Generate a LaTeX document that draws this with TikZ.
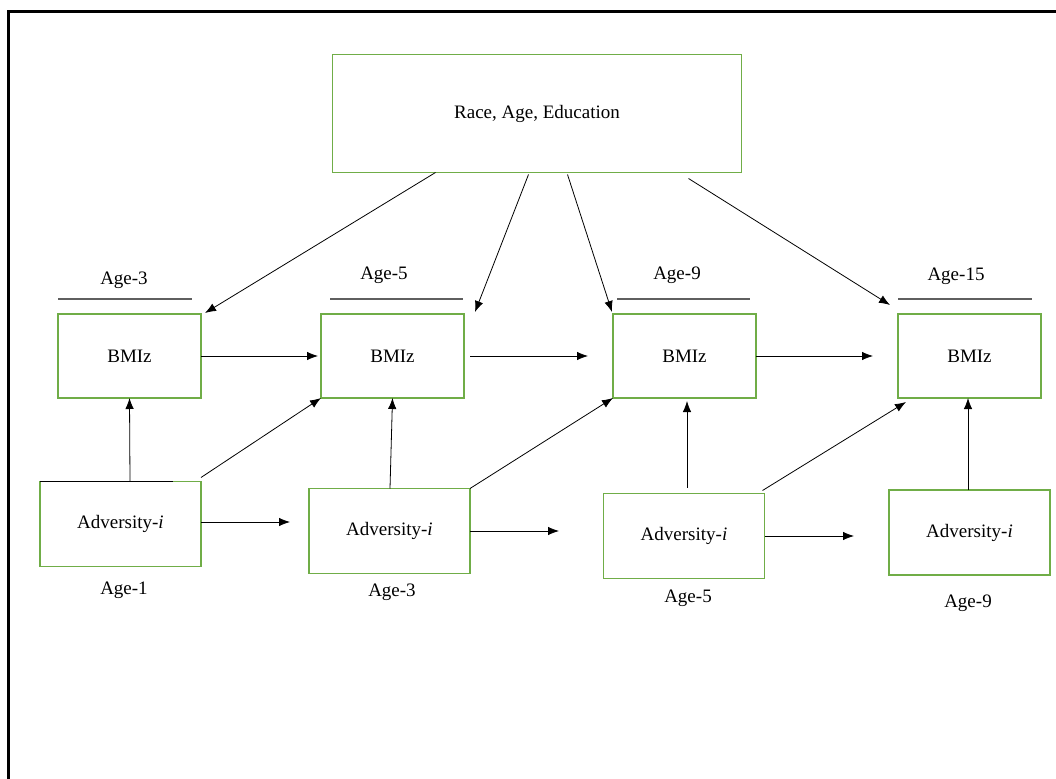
\documentclass[tikz,border=0pt]{standalone}
\usepackage{fontspec}
\setmainfont{Liberation Serif}
\usetikzlibrary{arrows.meta}
\definecolor{boxgreen}{RGB}{112,173,71}
\definecolor{bargray}{RGB}{95,95,95}
\tikzset{
  box/.style={draw=boxgreen, line width=1.6pt, minimum width=143pt, minimum height=84pt, inner sep=0pt, outer sep=0pt, font=\fontsize{19}{23}\selectfont},
  advbox/.style={box, minimum width=161pt, minimum height=85pt},
  agelabel/.style={inner sep=0pt, font=\fontsize{19}{23}\selectfont},
  arr/.style={draw=black, line width=0.8pt, -{Latex[length=11pt,width=8.5pt]}},
  plainline/.style={draw=black, line width=0.8pt},
  bar/.style={draw=bargray, line width=1.3pt}
}
\begin{document}
\begin{tikzpicture}[x=1pt,y=-1pt]
\useasboundingbox (0,0) rectangle (1056,778);
% outer frame
\draw[line width=2.4pt] (8.5,790) -- (8.5,11.5) -- (1070,11.5);

% top box
\node[box, minimum width=409pt, minimum height=118pt] (T) at (537,113.5) {Race, Age, Education};

% BMIz boxes
\node[box] (b1) at (129.5,356) {BMIz};
\node[box] (b2) at (392.5,356) {BMIz};
\node[box] (b3) at (684.5,356) {BMIz};
\node[box] (b4) at (969.5,356) {BMIz};

% adversity boxes
\node[advbox] (a1) at (120.5,524) {Adversity-\textit{i}};
\node[advbox] (a2) at (389.5,531) {Adversity-\textit{i}};
\node[advbox] (a3) at (684,536) {Adversity-\textit{i}};
\node[advbox] (a4) at (969.5,532.5) {Adversity-\textit{i}};
\draw[line width=1.2pt] (a1.north west) -- ++(133,0);

% age labels above
\node[agelabel] (l1) at (124,280) {Age-3};
\node[agelabel] (l2) at (384,275) {Age-5};
\node[agelabel] (l3) at (677,275) {Age-9};
\node[agelabel] (l4) at (956,276) {Age-15};
% bars
\draw[bar] (58,299) -- (192,299);
\draw[bar] (330,299) -- (463,299);
\draw[bar] (617,299) -- (750,299);
\draw[bar] (898,299) -- (1032,299);

% age labels below
\node[agelabel] (m1) at (124,590) {Age-1};
\node[agelabel] (m2) at (392,592) {Age-3};
\node[agelabel] (m3) at (688,598) {Age-5};
\node[agelabel] (m4) at (968,603) {Age-9};

% top arrows
\draw[arr] ([xshift=-101.5pt]T.south) -- ([xshift=4pt,yshift=1pt]b1.north east);
\draw[arr] ([xshift=-8.5pt,yshift=-2pt]T.south) -- ([xshift=11pt,yshift=2pt]b2.north east);
\draw[arr] ([xshift=30.5pt,yshift=-2pt]T.south) -- ([xshift=-1pt,yshift=2pt]b3.north west);
\draw[arr] ([xshift=151.5pt,yshift=-6pt]T.south) -- ([xshift=-8pt,yshift=9pt]b4.north west);

% BMIz chain
\draw[arr] (b1.east) -- ([xshift=-3pt]b2.west);
\draw[arr] ([xshift=6pt]b2.east) -- ([xshift=-25pt]b3.west);
\draw[arr] (b3.east) -- ([xshift=-25pt]b4.west);

% adversity -> BMIz
\draw[arr] ([xshift=9.5pt]a1.north) -- (b1.south);
\draw[arr] ([yshift=4pt]a1.north east) -- (b2.south west);
\draw[arr] ([xshift=0.5pt]a2.north) -- (b2.south);
\draw[arr] (a2.north east) -- (b3.south west);
\draw[arr] ([xshift=3pt,yshift=6pt]a3.north) -- ([xshift=2.5pt,yshift=-3pt]b3.south);
\draw[arr] ([xshift=-2pt,yshift=3pt]a3.north east) -- ([xshift=8pt,yshift=-4pt]b4.south west);
\draw[arr] ([xshift=-1.5pt]a4.north) -- ([xshift=-1.5pt]b4.south);

% adversity chain
\coordinate (e1) at (290,522);
\coordinate (e2) at (559,531);
\coordinate (e3) at (854,536);
\draw[arr] (a1.east |- e1) -- (e1);
\draw[arr] (a2.east |- e2) -- (e2);
\draw[arr] (a3.east |- e3) -- (e3);
\end{tikzpicture}
\end{document}
